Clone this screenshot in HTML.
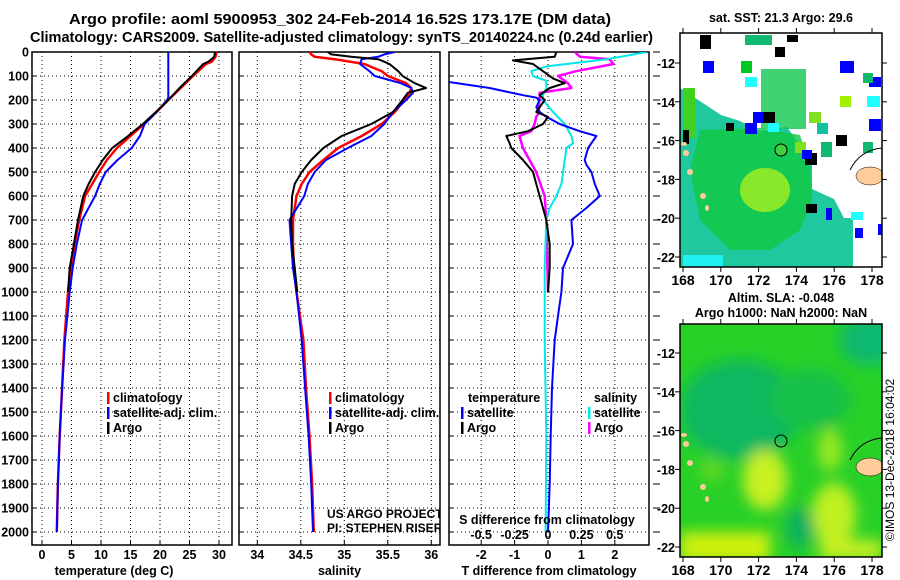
<!DOCTYPE html>
<html><head><meta charset="utf-8"><style>
body{margin:0;background:#fff;}
svg{display:block;font-family:"Liberation Sans",Arial,sans-serif;}
.b{font-weight:bold;font-size:12.5px;}
.m{font-weight:bold;font-size:14px;}
</style></head><body>
<svg id="c" width="900" height="580" viewBox="0 0 900 580">
<defs>
<clipPath id="cp1"><rect x="32" y="52" width="200" height="493"/></clipPath>
<clipPath id="cp2"><rect x="239" y="52" width="201" height="493"/></clipPath>
<clipPath id="cp3"><rect x="449" y="52" width="200" height="493"/></clipPath>
<clipPath id="cpm1"><rect x="680" y="33" width="202" height="234"/></clipPath>
<clipPath id="cpm2"><rect x="680" y="324" width="202" height="233"/></clipPath>
<filter id="bl"><feGaussianBlur stdDeviation="7"/></filter>
</defs>
<text x="69" y="24" textLength="542" lengthAdjust="spacingAndGlyphs" style="font-weight:bold;font-size:15px">Argo profile: aoml 5900953_302 24-Feb-2014 16.52S 173.17E (DM data)</text>
<text x="30" y="42" textLength="623" lengthAdjust="spacingAndGlyphs" style="font-weight:bold;font-size:14.5px">Climatology: CARS2009. Satellite-adjusted climatology: synTS_20140224.nc (0.24d earlier)</text>

<!-- top map -->
<g>
<text x="781" y="22" text-anchor="middle" class="b">sat. SST: 21.3 Argo: 29.6</text>
<g clip-path="url(#cpm1)">
<rect x="680" y="33" width="202" height="234" fill="#fff"/>
<polygon points="680,88 721,115 740,121 759,131 787,127 797,141 812,160 812,189 834,199 844,218 853,218 853,267 680,267" fill="#20c8a0"/>
<polygon points="700,130 760,128 800,135 810,165 812,200 800,230 770,250 730,250 700,220 690,170" fill="#10c840" opacity="0.8"/>
<rect x="761" y="69" width="45" height="60" fill="#10c850" opacity="0.8"/>
<ellipse cx="765" cy="190" rx="25" ry="22" fill="#a8f020" opacity="0.8"/>
<rect x="683" y="88" width="12" height="50" fill="#40d020"/>
<rect x="683" y="255" width="40" height="12" fill="#20f0f0"/>
<rect x="700" y="35" width="11" height="14" fill="#000"/><rect x="703" y="61" width="11" height="12" fill="#0000ff"/>
<rect x="840" y="61" width="14" height="12" fill="#0000ff"/><rect x="741" y="61" width="11" height="12" fill="#00c820"/>
<rect x="745" y="77" width="12" height="10" fill="#20ffff"/><rect x="775" y="47" width="10" height="10" fill="#000"/>
<rect x="745" y="35" width="27" height="10" fill="#10b870"/><rect x="787" y="35" width="11" height="7" fill="#000"/>
<rect x="869" y="77" width="12" height="10" fill="#0000ff"/><rect x="863" y="73" width="10" height="10" fill="#10b870"/>
<rect x="840" y="96" width="11" height="11" fill="#a0f000"/><rect x="867" y="96" width="13" height="11" fill="#20ffff"/>
<rect x="869" y="119" width="12" height="12" fill="#0000ff"/><rect x="836" y="135" width="11" height="11" fill="#000"/>
<rect x="863" y="142" width="10" height="11" fill="#10b870"/><rect x="821" y="142" width="11" height="15" fill="#10b870"/>
<rect x="795" y="142" width="11" height="11" fill="#80e020"/><rect x="753" y="112" width="11" height="11" fill="#0000ff"/>
<rect x="763" y="112" width="12" height="11" fill="#000"/><rect x="745" y="123" width="12" height="11" fill="#0000ff"/>
<rect x="768" y="123" width="11" height="9" fill="#20ffff"/><rect x="817" y="123" width="11" height="11" fill="#10c0a0"/>
<rect x="809" y="112" width="12" height="11" fill="#80e020"/><rect x="726" y="123" width="8" height="8" fill="#000"/>
<rect x="805" y="153" width="12" height="12" fill="#000"/><rect x="802" y="150" width="10" height="9" fill="#0000ff"/>
<rect x="806" y="204" width="11" height="9" fill="#000"/><rect x="826" y="208" width="6" height="12" fill="#0000ff"/>
<rect x="851" y="212" width="12" height="8" fill="#20ffff"/><rect x="878" y="224" width="4" height="11" fill="#0000ff"/>
<rect x="855" y="228" width="8" height="10" fill="#0000ff"/><rect x="683" y="130" width="6" height="14" fill="#000"/>
<ellipse cx="870" cy="176" rx="14" ry="9" fill="#ffcc99" stroke="#000" stroke-width="0.5"/>
<path d="M850,170 Q860,150 882,148" fill="none" stroke="#000" stroke-width="1"/>
<ellipse cx="684" cy="144" rx="3" ry="2" fill="#ffcc99"/><ellipse cx="686" cy="153" rx="3" ry="3" fill="#ffcc99"/>
<ellipse cx="690" cy="172" rx="3" ry="3" fill="#ffcc99"/><ellipse cx="703" cy="196" rx="3" ry="3" fill="#ffcc99"/>
<ellipse cx="707" cy="208" rx="2" ry="3" fill="#ffcc99"/>
<circle cx="781" cy="150" r="6" fill="#40d040" stroke="#000" stroke-width="1"/>
</g>
<rect x="680" y="33" width="202" height="234" fill="none" stroke="#000" stroke-width="1.5"/>
</g>

<!-- bottom map -->
<g>
<text x="781" y="302" text-anchor="middle" class="b">Altim. SLA: -0.048</text>
<text x="781" y="317" text-anchor="middle" class="b">Argo h1000: NaN h2000: NaN</text>
<g clip-path="url(#cpm2)">
<rect x="680" y="324" width="202" height="233" fill="#28d028"/>
<g filter="url(#bl)">
<ellipse cx="740" cy="410" rx="60" ry="50" fill="#10b860"/>
<ellipse cx="870" cy="340" rx="30" ry="25" fill="#10b870"/>
<ellipse cx="810" cy="400" rx="40" ry="30" fill="#18c048"/>
<ellipse cx="765" cy="480" rx="22" ry="30" fill="#c8f020"/>
<ellipse cx="834" cy="515" rx="22" ry="32" fill="#c0f020"/>
<ellipse cx="830" cy="450" rx="12" ry="22" fill="#98e820"/>
<rect x="680" y="532" width="90" height="30" fill="#d0f010"/>
<rect x="820" y="540" width="62" height="20" fill="#c8f020"/>
<ellipse cx="800" cy="528" rx="15" ry="20" fill="#10b060"/>
<ellipse cx="712" cy="470" rx="12" ry="12" fill="#60d820"/>
</g>
<ellipse cx="870" cy="467" rx="14" ry="9" fill="#ffcc99" stroke="#000" stroke-width="0.5"/>
<path d="M850,460 Q860,440 882,438" fill="none" stroke="#000" stroke-width="1"/>
<ellipse cx="684" cy="435" rx="3" ry="2" fill="#ffcc99"/><ellipse cx="686" cy="444" rx="3" ry="3" fill="#ffcc99"/>
<ellipse cx="690" cy="463" rx="3" ry="3" fill="#ffcc99"/><ellipse cx="703" cy="487" rx="3" ry="3" fill="#ffcc99"/>
<ellipse cx="707" cy="499" rx="2" ry="3" fill="#ffcc99"/>
<circle cx="781" cy="441" r="6" fill="none" stroke="#000" stroke-width="1"/>
</g>
<rect x="680" y="324" width="202" height="233" fill="none" stroke="#000" stroke-width="1.5"/>
</g>
<text transform="translate(894,460) rotate(-90)" text-anchor="middle" style="font-size:12px">©IMOS 13-Dec-2018 16:04:02</text>

<g id="plots"></g>
</svg>
<script>
// ---- data ----
const depthTicks=[0,100,200,300,400,500,600,700,800,900,1000,1100,1200,1300,1400,1500,1600,1700,1800,1900,2000];
const tempTicks=[0,5,10,15,20,25,30];
const salTicks=[34,34.5,35,35.5,36];
const salTickLabels=["34","34.5","35","35.5","36"];
const tdiffTicks=[-2,-1,0,1,2];
const sdiffTicks=[-0.5,-0.25,0,0.25,0.5];
const sdiffTickLabels=["-0.5","-0.25","0","0.25","0.5"];
const latTicks=[-12,-14,-16,-18,-20,-22];
const lonTicks=[168,170,172,174,176,178];

const depthClimT=[0,20,40,50,100,150,200,250,300,350,400,450,500,550,600,700,800,900,1000,1200,1400,1600,1800,2000];
const tempClim=[29.6,29.4,28.8,27.8,25.6,23.5,21.4,19.4,17.3,15.0,12.7,11.0,9.7,8.5,7.3,6.3,5.5,4.9,4.4,3.8,3.4,3.0,2.7,2.5];
const depthArgoT=[0,20,40,50,100,150,200,250,300,350,400,450,500,550,600,700,800,900,1000];
const tempArgo=[29.3,29.2,28.2,27.3,25.4,23.3,21.4,19.3,17.1,14.6,11.9,10.3,9.0,7.9,7.0,6.1,5.4,4.7,4.4];
const depthSatT=[0,190,200,250,300,350,400,450,500,550,600,700,800,900,1000,1200,1400,1600,1800,2000];
const tempSat=[21.4,21.4,21.2,19.4,17.4,16.6,15.2,12.8,10.8,9.8,9.0,6.8,5.9,5.2,4.7,3.9,3.4,3.0,2.7,2.5];

const depthS=[0,10,20,30,50,80,100,130,150,170,200,250,300,350,400,450,500,550,600,700,800,900,1000,1200,1400,1600,1800,2000];
const salClim=[34.60,34.62,34.66,34.89,35.23,35.43,35.50,35.71,35.77,35.75,35.69,35.58,35.43,35.20,34.93,34.76,34.60,34.51,34.45,34.41,34.41,34.42,34.45,34.53,34.56,34.60,34.63,34.65];
const salSat=[35.58,35.46,35.39,35.20,35.18,35.29,35.35,35.65,35.77,35.79,35.71,35.56,35.46,35.31,35.04,34.79,34.66,34.58,34.54,34.37,34.39,34.41,34.45,34.51,34.55,34.59,34.62,34.64];
const depthArgoS=[0,10,20,30,50,80,100,130,150,170,200,250,300,350,400,450,500,550,600,700,800,900,1000];
const salArgo=[34.81,34.85,35.08,35.39,35.52,35.62,35.67,35.81,35.94,35.73,35.67,35.56,35.31,34.97,34.76,34.62,34.51,34.43,34.40,34.39,34.40,34.43,34.46];

const depthDArgoT=[0,20,35,50,80,110,130,150,180,200,250,270,300,330,350,380,400,450,500,550,600,650,700,800,900,1000];
const tdiffArgo=[0.25,0.2,-1.05,-0.45,-0.15,0.15,0.5,0.05,-0.25,-0.1,-0.35,0,-0.15,-0.6,-1.25,-1.15,-1.1,-0.75,-0.45,-0.35,-0.25,-0.15,-0.05,0.05,0.05,0];
const depthDSatT=[124,150,180,190,200,230,250,270,300,330,350,380,400,450,470,500,550,600,650,700,800,900,1000,1100,1200,1400,1600,1800,2000];
const tdiffSat=[-3,-1.75,-0.75,-0.35,-0.25,-0.35,-0.25,-0.05,0.35,0.95,1.45,1.3,1.2,1.1,1.15,1.3,1.4,1.55,1.15,0.7,0.75,0.45,0.4,0.3,0.2,0.12,0.08,0.05,0];
const depthDArgoS=[0,20,30,50,80,100,130,150,170,200,230,250,270,300,330,350,400,500,600,700,800,1000];
const sdiffArgo=[0.2,0.24,0.46,0.49,0.21,0.075,0.15,0.175,-0.063,-0.063,-0.075,-0.063,-0.088,-0.1,-0.125,-0.213,-0.188,-0.088,-0.025,-0.013,-0.008,0];
const depthDSatS=[0,30,60,80,100,120,150,180,200,250,300,350,380,400,450,500,550,600,650,700,900,1200,1600,2000];
const sdiffSat=[0.74,0.44,-0.013,-0.125,-0.113,-0.013,-0.013,-0.038,-0.038,0.038,0.125,0.175,0.188,0.138,0.125,0.113,0.1,0.063,0.013,-0.013,-0.025,-0.025,-0.013,-0.018];

// ---- axes ----
const Y=d=>52+d*0.24;
const XT=t=>42+t*5.9;
const XS=s=>257.3+(s-34)*87;
const XDT=t=>548+t*33.4;
const XDS=s=>548+s*133.6;
const MLON=l=>683+(l-168)*18.9;
const MLAT1=l=>63+(-12-l)*19.4;
const MLAT2=l=>353+(-12-l)*19.4;

const NS="http://www.w3.org/2000/svg";
const root=document.getElementById('plots');
function mk(tag,attrs,parent){const e=document.createElementNS(NS,tag);for(const k in attrs)e.setAttribute(k,attrs[k]);(parent||root).appendChild(e);return e;}
function txt(x,y,s,anchor,cls,parent){const e=mk('text',{x:x,y:y,'text-anchor':anchor||'middle','class':cls||'b'},parent);e.textContent=s;return e;}

function panel(name,x0,x1,xticks,xfn,xlabels,xtitle,clip){
  const g=mk('g',{});
  
  
  depthTicks.forEach(d=>{const l=mk('line',{x1:x0,x2:x1,y1:Y(d),y2:Y(d),stroke:'#000','stroke-dasharray':'1,3','stroke-width':1},g);
    
    
    mk('line',{x1:x0,x2:x0+5,y1:Y(d),y2:Y(d),stroke:'#000'},g);});
  xticks.forEach((t,i)=>{const x=xfn(t);
    const l=mk('line',{x1:x,x2:x,y1:52,y2:545,stroke:'#000','stroke-dasharray':'1,3','stroke-width':1},g);
    
    
    mk('line',{x1:x,x2:x,y1:545,y2:540,stroke:'#000'},g);
    const t2=txt(x,559,xlabels[i],'middle','b',g);
    
    });
  const tt=txt((x0+x1)/2+ (name==='temperature'?-18:0),575,xtitle,'middle','b',g);
  
  
  const f=mk('rect',{x:x0,y:52,width:x1-x0,height:493,fill:'none',stroke:'#000','stroke-width':1.5},g);
  
  
  const pg=mk('g',{'clip-path':'url(#'+clip+')'},g);
  return pg;
}
function series(g,name,ds,vs,xfn,color,w){
  const pts=ds.map((d,i)=>xfn(vs[i]).toFixed(1)+','+Y(d).toFixed(1)).join(' ');
  const p=mk('polyline',{points:pts,fill:'none',stroke:color,'stroke-width':w||2,'stroke-linejoin':'round'},g);
  
  
}
depthTicks.forEach(d=>{const t=txt(29,Y(d)+4.5,String(d),'end');
  
  });

const g1=panel('temperature',32,232,tempTicks,XT,tempTicks.map(String),'temperature (deg C)','cp1');
series(g1,'temp-climatology-line',depthClimT,tempClim,XT,'#ff0000',2.5);
series(g1,'temp-satellite-line',depthSatT,tempSat,XT,'#0000ff',2);
series(g1,'temp-argo-line',depthArgoT,tempArgo,XT,'#000',2);

const g2=panel('salinity',239,440,salTicks,XS,salTickLabels,'salinity','cp2');
series(g2,'sal-climatology-line',depthS,salClim,XS,'#ff0000',2.5);
series(g2,'sal-satellite-line',depthS,salSat,XS,'#0000ff',2);
series(g2,'sal-argo-line',depthArgoS,salArgo,XS,'#000',2);

const g3=panel('difference',449,649,tdiffTicks,XDT,tdiffTicks.map(String),'T difference from climatology','cp3');
series(g3,'sdiff-argo-line',depthDArgoS,sdiffArgo,XDS,'#ff00ff',2.5);
series(g3,'sdiff-satellite-line',depthDSatS,sdiffSat,XDS,'#00e8e8',2);
series(g3,'tdiff-satellite-line',depthDSatT,tdiffSat,XDT,'#0000ff',2);
series(g3,'tdiff-argo-line',depthDArgoT,tdiffArgo,XDT,'#000',2);
depthTicks.forEach(d=>{const l=mk('line',{x1:653,x2:660,y1:Y(d),y2:Y(d),stroke:'#000'});
  
  });
const sdt=txt(547,524,'S difference from climatology');


sdiffTicks.forEach((s,i)=>{const t=txt(XDS(s),539,sdiffTickLabels[i]);
  
  });

function legend(x,y,color,label,name){
  const r=mk('rect',{x:x,y:y-10,width:2.5,height:12,fill:color});
  
  
  const t=txt(x+6,y,label,'start');
  
  
}
legend(107,402,'#ff0000','climatology','temp-legend-climatology');
legend(107,417,'#0000ff','satellite-adj. clim.','temp-legend-satellite');
legend(107,432,'#000','Argo','temp-legend-argo');
legend(329,402,'#ff0000','climatology','sal-legend-climatology');
legend(329,417,'#0000ff','satellite-adj. clim.','sal-legend-satellite');
legend(329,432,'#000','Argo','sal-legend-argo');
const lt=txt(468,402,'temperature','start');  
const ls=txt(594,402,'salinity','start');  
legend(461,417,'#0000ff','satellite','diff-legend-t-satellite');
legend(461,432,'#000','Argo','diff-legend-t-argo');
legend(588,417,'#00e8e8','satellite','diff-legend-s-satellite');
legend(588,432,'#ff00ff','Argo','diff-legend-s-argo');
const u1=txt(327,518,'US ARGO PROJECT','start','');
u1.setAttribute('style','font-size:12px'); u1.setAttribute('clip-path','url(#cp2)');
 
const u2=txt(327,532,'PI: STEPHEN RISER','start','');
u2.setAttribute('style','font-size:12px'); u2.setAttribute('clip-path','url(#cp2)');
 

function mapAxes(top,bottom,latfn,name){
  latTicks.forEach(l=>{const y=latfn(l);
    mk('line',{x1:675,x2:680,y1:y,y2:y,stroke:'#000'});
    mk('line',{x1:882,x2:887,y1:y,y2:y,stroke:'#000'});
    const t=txt(675,y+5,String(l),'end');
    
    });
  lonTicks.forEach(l=>{const x=MLON(l);
    mk('line',{x1:x,x2:x,y1:top-5,y2:top,stroke:'#000'});
    mk('line',{x1:x,x2:x,y1:bottom,y2:bottom+5,stroke:'#000'});
    const t=txt(x,bottom+18,String(l),'middle','m');
    
    });
}
mapAxes(33,267,MLAT1,'sst-map');
mapAxes(324,557,MLAT2,'sla-map');
</script>
</body></html>
